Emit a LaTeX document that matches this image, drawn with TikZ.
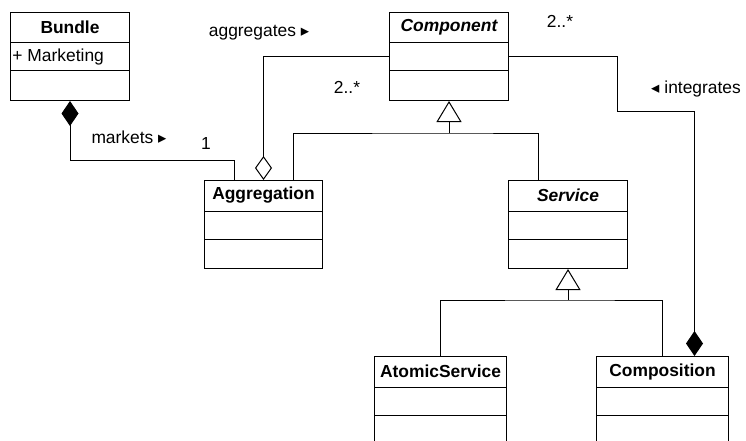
\documentclass[tikz,border=0pt]{standalone}
\usepackage{fontspec}
\setmainfont{Liberation Sans}
\newfontfamily\symfont{DejaVu Sans}
\usetikzlibrary{calc,positioning,arrows.meta}

\newcommand{\umlfont}{\fontsize{17.4}{21}\selectfont}

\tikzset{
  classbox/.style={draw, anchor=north west, minimum height=88pt, inner sep=0pt},
  classtitle/.style={font=\umlfont\bfseries, inner sep=0pt},
  assoclabel/.style={inner sep=0pt},
}

% class with three compartments: name, x, y, width, title, attribute
\newcommand{\umlclass}[6]{%
  \node[classbox, minimum width=#4pt] (#1) at (#2,#3) {};
  \node[classtitle] (#1-title) at ($(#1.north)+(0,15.5)$) {#5};
  \draw (#1.north west) ++(0,31) -- ++(#4,0);
  \draw (#1.north west) ++(0,59) -- ++(#4,0);
  \node[assoclabel, anchor=west] (#1-attr) at ($(#1.north west)+(2,45)$) {#6};
}
\newcommand{\rtri}{{\symfont\fontsize{16.5}{16.5}\selectfont ▸}}
\newcommand{\ltri}{{\symfont\fontsize{16.5}{16.5}\selectfont ◂}}

\begin{document}
\begin{tikzpicture}[x=1pt, y=-1pt, line width=1pt, font=\umlfont]

    \useasboundingbox (0,0) rectangle (746,441);
    \clip (0,0) rectangle (746,441);

    % classes
    \umlclass{bundle}{10}{12}{119}{Bundle}{+ Marketing}
    \umlclass{comp}{389}{12}{119}{\itshape Component}{}
    \umlclass{aggr}{204}{180}{118}{Aggregation}{}
    \umlclass{serv}{508}{180}{119}{\itshape Service}{}
    \umlclass{atom}{374}{356}{132}{AtomicService}{}
    \umlclass{compo}{596}{356}{132}{Composition}{}

    % helper points
    \coordinate (mk) at (234,160);
    \coordinate (g1) at ($(comp.south)+(0,32)$);
    \coordinate (g2) at ($(serv.south)+(0,31)$);
    \coordinate (ig) at (617,112);

    % markets
    \draw[{Diamond[length=25pt,width=17pt]}-] (bundle.south) |- (mk) -- (aggr.north -| mk);
    % aggregates
    \draw[{Diamond[open,length=24pt,width=17pt]}-] (aggr.north) |- (comp.west);
    % generalisation of Component
    \draw[-{Triangle[open,length=21pt,width=25pt]}] (g1) -- (comp.south);
    \draw ([xshift=30pt]aggr.north) |- (g1) -| ([xshift=-30pt]serv.north);
    % generalisation of Service
    \draw[-{Triangle[open,length=21pt,width=25pt]}] (g2) -- (serv.south);
    \draw (atom.north) |- (g2) -| (compo.north);
    % integrates
    \draw[{Diamond[length=25pt,width=17pt]}-] ([xshift=32pt]compo.north) |- (ig) |- (comp.east);

    % labels
    \node[assoclabel] (l-aggr) at (259,33) {aggregates \rtri};
    \node[assoclabel] (m-aggr) at (347,87) {2..*};
    \node[assoclabel] (l-mark) at (129,137) {markets \rtri};
    \node[assoclabel] (m-mark) at (206,144) {1};
    \node[assoclabel] (m-int) at (560,21) {2..*};
    \node[assoclabel] (l-int) at (696,89) {\ltri\hspace{5pt}integrates};

\end{tikzpicture}
\end{document}
